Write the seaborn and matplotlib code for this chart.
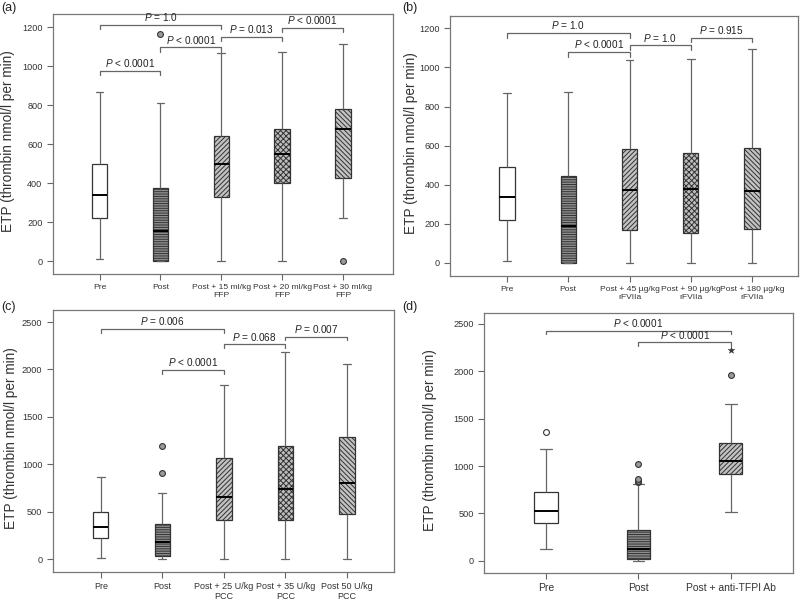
import numpy as np
import pandas as pd
import matplotlib
matplotlib.use("Agg")
import matplotlib.pyplot as plt
import seaborn as sns

sns.set_theme(style="ticks")
plt.rcParams['font.family'] = ['Liberation Sans', 'DejaVu Sans']
plt.rcParams['mathtext.fontset'] = 'custom'
plt.rcParams['mathtext.rm'] = 'Liberation Sans'
plt.rcParams['mathtext.it'] = 'Liberation Sans:italic'
plt.rcParams['hatch.linewidth'] = 0.7

# ---------------------------
# Panel (a): FFP
# ---------------------------
a_groups = ["Pre", "Post", "Post + 15 ml/kg\nFFP", "Post + 20 ml/kg\nFFP", "Post + 30 ml/kg\nFFP"]
a_min = [10, 0, 0, 0, 220]
a_q1 = [219, 0, 330, 400, 424]
a_med = [339, 156, 498, 548, 677]
a_q3 = [496, 373, 644, 678, 780]
a_max = [868, 813, 1066, 1072, 1114]
a_out_idx = [1, 4]
a_out_val = [1164, 0]
a_out_kind = ["filled", "filled"]
a_br_left = [0, 0, 1, 2, 3]
a_br_right = [2, 1, 2, 3, 4]
a_br_y = [1212, 976, 1097, 1149, 1197]
a_br_text = ["= 1.0", "< 0.0001", "< 0.0001", "= 0.013", "< 0.0001"]

# ---------------------------
# Panel (b): rFVIIa
# ---------------------------
b_groups = ["Pre", "Post", "Post + 45 µg/kg\nrFVIIa", "Post + 90 µg/kg\nrFVIIa", "Post + 180 µg/kg\nrFVIIa"]
b_min = [10, 0, 0, 0, 0]
b_q1 = [218, 0, 169, 152, 172]
b_med = [338, 189, 372, 379, 370]
b_q3 = [490, 445, 584, 560, 589]
b_max = [867, 872, 1038, 1043, 1094]
b_out_idx = []
b_out_val = []
b_out_kind = []
b_br_left = [0, 1, 2, 3]
b_br_right = [2, 2, 3, 4]
b_br_y = [1176, 1079, 1113, 1152]
b_br_text = ["= 1.0", "< 0.0001", "= 1.0", "= 0.915"]

# ---------------------------
# Panel (c): PCC
# ---------------------------
c_groups = ["Pre", "Post", "Post + 25 U/kg\nPCC", "Post + 35 U/kg\nPCC", "Post 50 U/kg\nPCC"]
c_min = [11, 0, 0, 0, 0]
c_q1 = [218, 32, 411, 411, 478]
c_med = [341, 183, 654, 738, 802]
c_q3 = [496, 366, 1065, 1195, 1290]
c_max = [865, 693, 1840, 2187, 2057]
c_out_idx = [1, 1]
c_out_val = [904, 1195]
c_out_kind = ["filled", "filled"]
c_br_left = [0, 1, 2, 3]
c_br_right = [2, 2, 3, 4]
c_br_y = [2426, 1994, 2265, 2345]
c_br_text = ["= 0.006", "< 0.0001", "= 0.068", "= 0.007"]

# ---------------------------
# Panel (d): anti-TFPI
# ---------------------------
d_groups = ["Pre", "Post", "Post + anti-TFPI Ab"]
d_min = [123, 0, 513]
d_q1 = [397, 18, 918]
d_med = [531, 127, 1052]
d_q3 = [731, 327, 1241]
d_max = [1181, 812, 1653]
d_out_idx = [0, 1, 1, 1, 1, 2, 2]
d_out_val = [1364, 830, 845, 860, 1025, 1960, 2220]
d_out_kind = ["hollow", "filled", "filled", "filled", "filled", "filled", "star"]
d_br_left = [0, 1]
d_br_right = [2, 2]
d_br_y = [2426, 2303]
d_br_text = ["< 0.0001", "< 0.0001"]

box_styles = {
    "plain": ("white", None),
    "hlines": ("#8e8e8e", "-------"),
    "fwd": ("#c2c2c2", "///////"),
    "cross": ("#bdbdbd", "xxxxxx"),
    "back": ("#c2c2c2", "\\\\\\\\\\\\\\"),
}
out_styles = {
    "filled": dict(marker="o", color="#9a9a9a", edgecolor="#333333", linewidth=0.8, size=4.2),
    "hollow": dict(marker="o", color="white", edgecolor="#333333", linewidth=0.8, size=4.2),
    "star": dict(marker="*", color="#333333", edgecolor="#333333", linewidth=0.3, size=5),
}


def draw_panel(ax, groups, mins, q1s, meds, q3s, maxs, styles,
               out_idx, out_val, out_kind, br_l, br_r, br_y, br_txt,
               drop, xlim, ylim, yticks, xfs, ylab_x):
    vals = np.column_stack([mins, q1s, meds, q3s, maxs]).ravel()
    df = pd.DataFrame({"group": np.repeat(groups, 5), "value": vals})
    sns.boxplot(data=df, x="group", y="value", order=groups, whis=np.inf,
                width=0.25, color="white", linecolor="#555555", linewidth=0.9,
                medianprops=dict(color="black", linewidth=1.4),
                whiskerprops=dict(color="#666666"), capprops=dict(color="#666666"),
                ax=ax)
    for patch, st in zip(ax.patches, styles):
        fc, hatch = box_styles[st]
        patch.set_facecolor(fc)
        patch.set_hatch(hatch)
        patch.set_edgecolor("#333333")

    # outliers
    for kind in ["filled", "hollow", "star"]:
        xs = [groups[i] for i, k in zip(out_idx, out_kind) if k == kind]
        ys = [v for v, k in zip(out_val, out_kind) if k == kind]
        if xs:
            sns.stripplot(x=xs, y=ys, order=groups, jitter=False, ax=ax, zorder=5,
                          **out_styles[kind])

    # significance brackets
    for l, r, y, t in zip(br_l, br_r, br_y, br_txt):
        ax.plot([l, l, r, r], [y - drop, y, y, y - drop], color="#666666", lw=0.9)
        ax.annotate(f"$P$ {t}", xy=((l + r) / 2, y), xytext=(0, 1.2),
                    textcoords="offset points", ha="center", va="bottom",
                    fontsize=7.2, color="#222222")

    ax.set_xlim(*xlim)
    ax.set_ylim(*ylim)
    ax.set_yticks(yticks)
    ax.set_xlabel("")
    ax.set_ylabel("ETP (thrombin nmol/l per min)", fontsize=9.8, color="#333333")
    ax.yaxis.set_label_coords(ylab_x, 0.51)
    for s in ax.spines.values():
        s.set_visible(True)
        s.set_color("#777777")
        s.set_linewidth(0.9)
    ax.tick_params(axis="both", colors="#666666", length=4, width=0.8,
                   labelcolor="#333333")
    ax.tick_params(axis="y", labelsize=6.6)
    ax.tick_params(axis="x", labelsize=xfs)
    for lab in ax.get_xticklabels():
        lab.set_linespacing(1.1)
    return ax


fig = plt.figure(figsize=(8, 6.05), dpi=100)

ax_a = fig.add_axes([0.066, 0.547, 0.425, 0.430])
draw_panel(ax_a, a_groups, a_min, a_q1, a_med, a_q3, a_max,
           ["plain", "hlines", "fwd", "cross", "back"],
           a_out_idx, a_out_val, a_out_kind,
           a_br_left, a_br_right, a_br_y, a_br_text,
           22, (-0.77, 4.82), (-67, 1268), range(0, 1201, 200), 6.1, -0.112)

ax_b = fig.add_axes([0.5625, 0.544, 0.435, 0.430])
draw_panel(ax_b, b_groups, b_min, b_q1, b_med, b_q3, b_max,
           ["plain", "hlines", "fwd", "cross", "back"],
           b_out_idx, b_out_val, b_out_kind,
           b_br_left, b_br_right, b_br_y, b_br_text,
           24, (-0.93, 4.75), (-67, 1265), range(0, 1201, 200), 6.1, -0.092)

ax_c = fig.add_axes([0.066, 0.0545, 0.426, 0.433])
draw_panel(ax_c, c_groups, c_min, c_q1, c_med, c_q3, c_max,
           ["plain", "hlines", "fwd", "cross", "back"],
           c_out_idx, c_out_val, c_out_kind,
           c_br_left, c_br_right, c_br_y, c_br_text,
           38, (-0.78, 4.76), (-137, 2627), range(0, 2501, 500), 6.5, -0.103)

ax_d = fig.add_axes([0.605, 0.053, 0.386, 0.430])
draw_panel(ax_d, d_groups, d_min, d_q1, d_med, d_q3, d_max,
           ["plain", "hlines", "fwd"],
           d_out_idx, d_out_val, d_out_kind,
           d_br_left, d_br_right, d_br_y, d_br_text,
           36, (-0.67, 2.67), (-127, 2616), range(0, 2501, 500), 7.5, -0.152)

# panel letters
for x, y, letter in [(0.002, 0.987, "(a)"), (0.503, 0.987, "(b)"),
                     (0.002, 0.493, "(c)"), (0.503, 0.493, "(d)")]:
    fig.text(x, y, letter, fontsize=9, color="#222222", ha="left", va="center")

fig.savefig("out.png", dpi=100)
